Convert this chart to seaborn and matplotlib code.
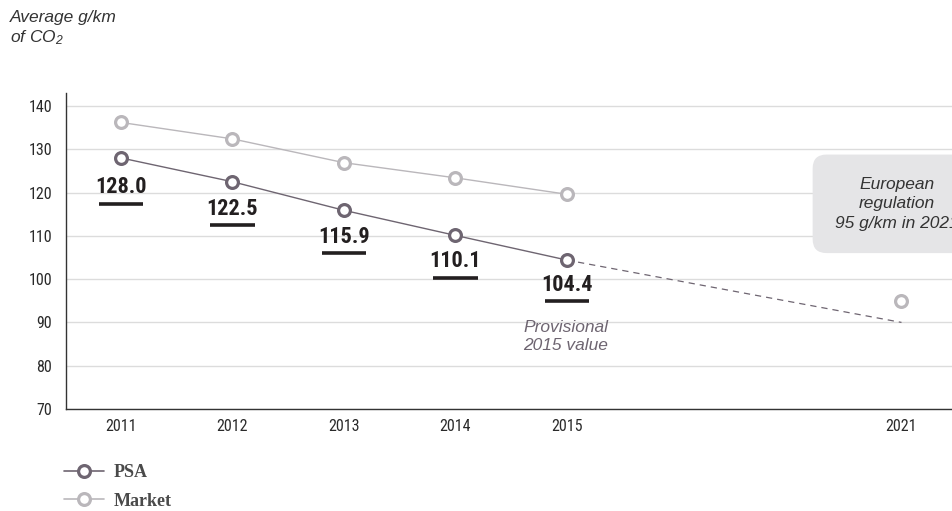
import matplotlib
matplotlib.use("Agg")
import matplotlib.pyplot as plt
import matplotlib.transforms as mtransforms
from matplotlib.lines import Line2D
import seaborn as sns
import pandas as pd

# ---- data ----
years = [2011, 2012, 2013, 2014, 2015]
psa_values = [128.0, 122.5, 115.9, 110.1, 104.4]
market_values = [136.2, 132.4, 126.9, 123.4, 119.6]
target_years = [2015, 2021]
psa_target = [104.4, 90.0]
market_2021_year = [2021]
market_2021_value = [95.0]
tick_years = [2011, 2012, 2013, 2014, 2015, 2021]
yticks = [70, 80, 90, 100, 110, 120, 130, 140]
label_texts = ["128.0", "122.5", "115.9", "110.1", "104.4"]

PSA_C = "#6e6571"
MKT_C = "#bab7bb"
TXT_C = "#231f20"
NARROW = ["Roboto Condensed", "Liberation Sans Narrow", "Liberation Sans"]


def pos(y):
    # compressed axis: annual steps up to 2015, then half-size steps
    return (y - 2011) if y <= 2015 else 4 + (y - 2015) / 2


sns.set_theme(style="white")
plt.rcParams["font.family"] = ["Liberation Sans", "DejaVu Sans"]
plt.rcParams["mathtext.default"] = "regular"

fig = plt.figure(figsize=(9.52, 5.11), dpi=100)
ax = fig.add_axes([66 / 952, 102 / 511, 886 / 952, 316 / 511])

df_psa = pd.DataFrame({"x": [pos(y) for y in years], "v": psa_values})
df_mkt = pd.DataFrame({"x": [pos(y) for y in years], "v": market_values})
df_tgt = pd.DataFrame({"x": [pos(y) for y in target_years], "v": psa_target})
df_m21 = pd.DataFrame({"x": [pos(y) for y in market_2021_year], "v": market_2021_value})

mk = dict(marker="o", markersize=8.5, markerfacecolor="white", markeredgewidth=2.3)

sns.lineplot(data=df_tgt, x="x", y="v", ax=ax, color=PSA_C, lw=0.9,
             dashes=False, linestyle=(0, (5, 4)), zorder=2)
sns.lineplot(data=df_mkt, x="x", y="v", ax=ax, color=MKT_C, lw=1.0,
             markeredgecolor=MKT_C, zorder=3, **mk)
sns.lineplot(data=df_m21, x="x", y="v", ax=ax, color=MKT_C, lw=0,
             markeredgecolor=MKT_C, zorder=3, **mk)
sns.lineplot(data=df_psa, x="x", y="v", ax=ax, color=PSA_C, lw=1.0,
             markeredgecolor=PSA_C, zorder=4, **mk)

ax.set_xlim(-0.493, 7.453)
ax.set_ylim(70, 143.0)
ax.set_yticks(yticks)
ax.set_xticks([pos(y) for y in tick_years])
ax.set_xticklabels([str(y) for y in tick_years])
ax.set_xlabel("")
ax.set_ylabel("")
ax.grid(axis="y", color="#dcdcdc", lw=1.0)
ax.grid(axis="x", visible=False)
for s in ["top", "right"]:
    ax.spines[s].set_visible(False)
for s in ["left", "bottom"]:
    ax.spines[s].set_color("#333333")
    ax.spines[s].set_linewidth(1.0)
ax.tick_params(axis="y", length=0, pad=10, labelsize=11.5, labelcolor="#2a2a2a")
ax.tick_params(axis="x", length=0, pad=7, labelsize=11.5, labelcolor="#2a2a2a")
for lab in ax.get_xticklabels() + ax.get_yticklabels():
    lab.set_family(NARROW)

# value labels with underline bars
text_off = [-21, -19.5, -19.5, -18.5, -18]
bar_off = [-33, -31, -31, -31, -29.5]
for i, (y, v, t) in enumerate(zip(years, psa_values, label_texts)):
    x = pos(y)
    ax.annotate(t, (x, v), xytext=(0, text_off[i]), textcoords="offset points",
                ha="center", va="center", fontsize=16, fontweight="bold",
                color=TXT_C, family=NARROW, zorder=5)
    tr = mtransforms.offset_copy(ax.transData, fig=fig, x=0, y=bar_off[i], units="points")
    ax.add_line(Line2D([x - 0.2, x + 0.2], [v, v], transform=tr, color=TXT_C,
                       lw=2.6, solid_capstyle="butt", zorder=5))

# provisional note
ax.annotate("Provisional\n2015 value", (pos(2015), psa_values[-1]), xytext=(-1, -55),
            textcoords="offset points", ha="center", va="center", fontsize=12.5,
            style="italic", color="#6e6571", linespacing=1.2)

# regulation box
ax.text(pos(2021) - 0.04, 117.4, "European\nregulation\n95 g/km in 2021",
        ha="center", va="center", fontsize=12.5, style="italic", color="#333333",
        linespacing=1.35, clip_on=False,
        bbox=dict(boxstyle="round,pad=1.3,rounding_size=0.8", fc="#e5e5e7", ec="none"))

# y title
fig.text(10 / 952, 1 - 10 / 511, "Average g/km\nof CO$_2$", ha="left", va="top",
         fontsize=12.5, style="italic", color="#333333", linespacing=1.25)

# legend
handles = [
    Line2D([], [], color=PSA_C, lw=1.2, marker="o", markersize=8.5,
           markerfacecolor="white", markeredgecolor=PSA_C, markeredgewidth=2.3),
    Line2D([], [], color=MKT_C, lw=1.2, marker="o", markersize=8.5,
           markerfacecolor="white", markeredgecolor=MKT_C, markeredgewidth=2.3),
]
fig.legend(handles, ["PSA", "Market"], loc="lower left",
           bbox_to_anchor=(48 / 952, -15 / 511), frameon=False, handlelength=2.2,
           handletextpad=0.55, labelspacing=0.65,
           prop=dict(family=["Liberation Serif", "DejaVu Serif"], weight="bold", size=13),
           labelcolor="#4a4a4a")

fig.savefig("out.png", dpi=100)
